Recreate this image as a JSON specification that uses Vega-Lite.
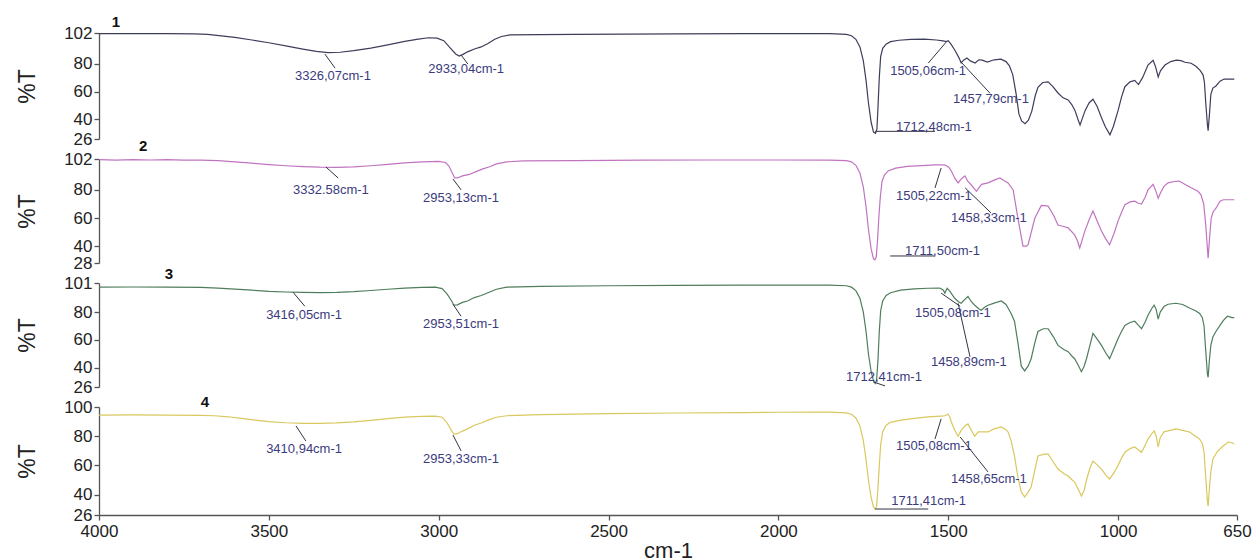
{
  "$schema": "https://vega.github.io/schema/vega-lite/v6.json",
  "background": "white",
  "padding": {"left": 16, "top": 14, "right": 5, "bottom": 0},
  "bounds": "flush",
  "spacing": 20,
  "config": {
    "view": {"stroke": null},
    "font": "Liberation Sans",
    "axis": {"grid": false, "labelOverlap": false, "domainColor": "#555555", "tickColor": "#555555", "labelColor": "#222222", "titleColor": "#222222", "labelFont": "Liberation Sans", "titleFont": "Liberation Sans", "labelFontSize": 17, "titleFontSize": 23, "titleFontWeight": "normal", "tickSize": 5, "labelPadding": 2, "domainWidth": 1.3, "tickWidth": 1.3}
  },
  "datasets": {
    "s1": [
      {"wn":4000,"t":101.5},{"wn":3900,"t":101.6},{"wn":3800,"t":101.5},{"wn":3720,"t":101.4},{"wn":3680,"t":101},{"wn":3640,"t":100},{"wn":3600,"t":98.8},{"wn":3550,"t":97},{"wn":3500,"t":95},{"wn":3450,"t":92.8},{"wn":3400,"t":90.5},{"wn":3360,"t":88.8},{"wn":3326,"t":88},{"wn":3290,"t":88.2},{"wn":3250,"t":89.3},{"wn":3200,"t":91.2},{"wn":3150,"t":93.5},{"wn":3100,"t":96},{"wn":3060,"t":97.6},{"wn":3030,"t":98.6},{"wn":3005,"t":98.3},{"wn":2985,"t":96.5},{"wn":2965,"t":91},{"wn":2950,"t":87},{"wn":2940,"t":85.5},{"wn":2930,"t":86.5},{"wn":2915,"t":88.5},{"wn":2895,"t":90.5},{"wn":2875,"t":92},{"wn":2855,"t":94.5},{"wn":2835,"t":97.5},{"wn":2815,"t":99.5},{"wn":2790,"t":100.6},{"wn":2700,"t":100.9},{"wn":2600,"t":101},{"wn":2450,"t":101.2},{"wn":2300,"t":101.4},{"wn":2100,"t":101.5},{"wn":1950,"t":101.6},{"wn":1850,"t":101.5},{"wn":1800,"t":101},{"wn":1785,"t":100},{"wn":1772,"t":97.5},{"wn":1760,"t":92},{"wn":1750,"t":82},{"wn":1742,"t":68},{"wn":1735,"t":52},{"wn":1727,"t":38},{"wn":1720,"t":31},{"wn":1714,"t":30},{"wn":1710,"t":33},{"wn":1707,"t":48},{"wn":1703,"t":70},{"wn":1699,"t":85},{"wn":1693,"t":91},{"wn":1683,"t":94},{"wn":1670,"t":95.8},{"wn":1645,"t":96.8},{"wn":1610,"t":97.4},{"wn":1570,"t":97.6},{"wn":1535,"t":97},{"wn":1515,"t":96.4},{"wn":1506,"t":95.8},{"wn":1500,"t":96.5},{"wn":1492,"t":94},{"wn":1480,"t":89.5},{"wn":1468,"t":84},{"wn":1462,"t":80.5},{"wn":1455,"t":82.5},{"wn":1445,"t":84},{"wn":1435,"t":82},{"wn":1421,"t":80.5},{"wn":1410,"t":82.8},{"wn":1400,"t":82.5},{"wn":1385,"t":81.2},{"wn":1365,"t":82.8},{"wn":1345,"t":83.2},{"wn":1330,"t":81.5},{"wn":1320,"t":78.5},{"wn":1310,"t":72},{"wn":1300,"t":58},{"wn":1292,"t":44},{"wn":1284,"t":39},{"wn":1274,"t":37},{"wn":1264,"t":39.5},{"wn":1254,"t":46},{"wn":1244,"t":57},{"wn":1236,"t":63},{"wn":1222,"t":66.5},{"wn":1206,"t":67},{"wn":1192,"t":63.5},{"wn":1177,"t":59},{"wn":1162,"t":55.5},{"wn":1147,"t":54},{"wn":1136,"t":50.5},{"wn":1127,"t":46.5},{"wn":1118,"t":40},{"wn":1112,"t":36},{"wn":1105,"t":41},{"wn":1097,"t":46.5},{"wn":1085,"t":52},{"wn":1074,"t":54.5},{"wn":1062,"t":49.5},{"wn":1050,"t":42},{"wn":1038,"t":35},{"wn":1024,"t":29},{"wn":1014,"t":35},{"wn":1000,"t":46.5},{"wn":990,"t":56},{"wn":980,"t":63.5},{"wn":965,"t":67},{"wn":951,"t":68},{"wn":940,"t":65},{"wn":928,"t":70},{"wn":912,"t":79},{"wn":897,"t":82.5},{"wn":890,"t":78},{"wn":882,"t":70.5},{"wn":875,"t":75},{"wn":862,"t":79},{"wn":845,"t":81.5},{"wn":829,"t":82.6},{"wn":815,"t":82.2},{"wn":803,"t":81},{"wn":785,"t":80.3},{"wn":770,"t":78},{"wn":758,"t":75},{"wn":750,"t":72},{"wn":746,"t":67},{"wn":742,"t":52},{"wn":737,"t":36},{"wn":735,"t":32},{"wn":731,"t":44},{"wn":727,"t":58},{"wn":721,"t":62.5},{"wn":712,"t":64},{"wn":700,"t":67.5},{"wn":688,"t":69},{"wn":670,"t":69},{"wn":658,"t":69}
    ],
    "s2": [
      {"wn":4000,"t":101.5},{"wn":3950,"t":101.2},{"wn":3900,"t":101.6},{"wn":3850,"t":101.3},{"wn":3800,"t":101.5},{"wn":3750,"t":101.2},{"wn":3700,"t":101.2},{"wn":3650,"t":100.8},{"wn":3600,"t":100},{"wn":3550,"t":99},{"wn":3500,"t":98},{"wn":3450,"t":97.2},{"wn":3400,"t":96.6},{"wn":3350,"t":96.2},{"wn":3300,"t":96.1},{"wn":3250,"t":96.4},{"wn":3200,"t":97.2},{"wn":3150,"t":98.2},{"wn":3100,"t":99.2},{"wn":3050,"t":100},{"wn":3000,"t":100.3},{"wn":2980,"t":99.5},{"wn":2970,"t":97},{"wn":2960,"t":92},{"wn":2953,"t":88.5},{"wn":2945,"t":88.5},{"wn":2930,"t":90},{"wn":2910,"t":91},{"wn":2890,"t":93},{"wn":2870,"t":95},{"wn":2850,"t":96.5},{"wn":2830,"t":98.5},{"wn":2800,"t":100},{"wn":2750,"t":100.6},{"wn":2600,"t":100.9},{"wn":2400,"t":101.2},{"wn":2200,"t":101.3},{"wn":2000,"t":101.3},{"wn":1850,"t":101.2},{"wn":1800,"t":100.8},{"wn":1785,"t":100},{"wn":1772,"t":97.5},{"wn":1760,"t":92},{"wn":1750,"t":82},{"wn":1742,"t":68},{"wn":1735,"t":52},{"wn":1727,"t":38},{"wn":1720,"t":31},{"wn":1716,"t":30.3},{"wn":1712,"t":32},{"wn":1708,"t":45},{"wn":1704,"t":62},{"wn":1700,"t":75},{"wn":1695,"t":86},{"wn":1688,"t":90.6},{"wn":1677,"t":93.5},{"wn":1655,"t":95.5},{"wn":1620,"t":96.8},{"wn":1580,"t":97.3},{"wn":1540,"t":97.8},{"wn":1521,"t":97.8},{"wn":1510,"t":97.6},{"wn":1505,"t":97.2},{"wn":1498,"t":96},{"wn":1491,"t":93.5},{"wn":1480,"t":88},{"wn":1471,"t":85},{"wn":1461,"t":88},{"wn":1451,"t":90},{"wn":1442,"t":86},{"wn":1432,"t":83.5},{"wn":1417,"t":79},{"wn":1402,"t":84},{"wn":1383,"t":85},{"wn":1365,"t":87},{"wn":1348,"t":88.5},{"wn":1335,"t":86.5},{"wn":1324,"t":85},{"wn":1309,"t":80},{"wn":1295,"t":60},{"wn":1280,"t":40},{"wn":1270,"t":40},{"wn":1265,"t":41},{"wn":1245,"t":60},{"wn":1226,"t":69},{"wn":1206,"t":68.5},{"wn":1190,"t":62},{"wn":1177,"t":55},{"wn":1160,"t":54},{"wn":1147,"t":53},{"wn":1128,"t":48},{"wn":1120,"t":44},{"wn":1113,"t":38.7},{"wn":1105,"t":45},{"wn":1098,"t":50.7},{"wn":1085,"t":59},{"wn":1074,"t":65},{"wn":1062,"t":58},{"wn":1049,"t":50.7},{"wn":1036,"t":45},{"wn":1025,"t":41},{"wn":1012,"t":49},{"wn":1000,"t":58},{"wn":990,"t":64},{"wn":980,"t":69.5},{"wn":965,"t":71.5},{"wn":951,"t":72},{"wn":940,"t":70.5},{"wn":931,"t":70},{"wn":920,"t":75},{"wn":912,"t":80},{"wn":897,"t":84},{"wn":890,"t":80},{"wn":882,"t":74},{"wn":875,"t":78},{"wn":865,"t":82.5},{"wn":853,"t":85},{"wn":835,"t":86},{"wn":820,"t":86.3},{"wn":800,"t":83.5},{"wn":785,"t":81.5},{"wn":765,"t":79},{"wn":756,"t":76.5},{"wn":748,"t":70},{"wn":742,"t":55},{"wn":737,"t":38},{"wn":735,"t":31.5},{"wn":731,"t":45},{"wn":726,"t":60},{"wn":720,"t":64.5},{"wn":712,"t":67},{"wn":700,"t":72},{"wn":690,"t":73},{"wn":675,"t":73},{"wn":658,"t":73}
    ],
    "s3": [
      {"wn":4000,"t":98},{"wn":3900,"t":98.1},{"wn":3800,"t":98},{"wn":3700,"t":97.8},{"wn":3650,"t":97.3},{"wn":3600,"t":96.6},{"wn":3550,"t":95.8},{"wn":3500,"t":95},{"wn":3450,"t":94.5},{"wn":3400,"t":94.2},{"wn":3350,"t":94.1},{"wn":3300,"t":94.3},{"wn":3250,"t":94.8},{"wn":3200,"t":95.6},{"wn":3150,"t":96.5},{"wn":3100,"t":97.3},{"wn":3050,"t":97.8},{"wn":3010,"t":98},{"wn":2990,"t":97},{"wn":2975,"t":93},{"wn":2962,"t":88},{"wn":2955,"t":85},{"wn":2945,"t":85.2},{"wn":2930,"t":87},{"wn":2915,"t":88},{"wn":2895,"t":90.5},{"wn":2875,"t":92},{"wn":2855,"t":94},{"wn":2830,"t":96.5},{"wn":2800,"t":98},{"wn":2700,"t":98.6},{"wn":2500,"t":99},{"wn":2300,"t":99.3},{"wn":2100,"t":99.4},{"wn":1950,"t":99.5},{"wn":1850,"t":99.4},{"wn":1800,"t":99},{"wn":1785,"t":98},{"wn":1772,"t":95.5},{"wn":1760,"t":90},{"wn":1750,"t":80},{"wn":1742,"t":66},{"wn":1735,"t":50},{"wn":1727,"t":37},{"wn":1720,"t":30.5},{"wn":1715,"t":28.5},{"wn":1711,"t":31},{"wn":1707,"t":45},{"wn":1703,"t":66},{"wn":1699,"t":81},{"wn":1693,"t":88},{"wn":1683,"t":92},{"wn":1670,"t":94},{"wn":1640,"t":95.8},{"wn":1600,"t":96.8},{"wn":1560,"t":97.2},{"wn":1525,"t":97.4},{"wn":1515,"t":96},{"wn":1510,"t":93.7},{"wn":1503,"t":97.2},{"wn":1495,"t":95},{"wn":1481,"t":90},{"wn":1470,"t":87.5},{"wn":1462,"t":86.4},{"wn":1452,"t":89},{"wn":1442,"t":91.3},{"wn":1432,"t":87.5},{"wn":1422,"t":85},{"wn":1410,"t":82.5},{"wn":1403,"t":81.3},{"wn":1393,"t":83.5},{"wn":1383,"t":85},{"wn":1365,"t":86.5},{"wn":1344,"t":88},{"wn":1330,"t":85.5},{"wn":1324,"t":83},{"wn":1315,"t":79},{"wn":1305,"t":73.4},{"wn":1295,"t":58},{"wn":1285,"t":41},{"wn":1275,"t":37.6},{"wn":1265,"t":41},{"wn":1256,"t":46.4},{"wn":1245,"t":58},{"wn":1236,"t":66},{"wn":1220,"t":68},{"wn":1206,"t":68},{"wn":1190,"t":62},{"wn":1177,"t":56},{"wn":1160,"t":53},{"wn":1147,"t":51.5},{"wn":1135,"t":48},{"wn":1128,"t":46.4},{"wn":1118,"t":42},{"wn":1108,"t":37},{"wn":1100,"t":41},{"wn":1093,"t":46.4},{"wn":1083,"t":56},{"wn":1074,"t":64.6},{"wn":1060,"t":60},{"wn":1049,"t":56},{"wn":1035,"t":50},{"wn":1025,"t":46.4},{"wn":1012,"t":54},{"wn":1000,"t":61},{"wn":990,"t":66},{"wn":980,"t":70.4},{"wn":965,"t":72.5},{"wn":951,"t":73.4},{"wn":940,"t":70.5},{"wn":931,"t":68},{"wn":920,"t":73},{"wn":912,"t":77.7},{"wn":900,"t":83},{"wn":894,"t":85},{"wn":888,"t":82},{"wn":882,"t":75},{"wn":876,"t":80},{"wn":865,"t":84},{"wn":853,"t":85.7},{"wn":830,"t":86.4},{"wn":810,"t":85.5},{"wn":790,"t":83},{"wn":772,"t":81},{"wn":760,"t":79},{"wn":752,"t":76},{"wn":747,"t":70},{"wn":742,"t":52},{"wn":737,"t":35},{"wn":735,"t":33},{"wn":731,"t":46},{"wn":727,"t":56},{"wn":721,"t":62},{"wn":712,"t":66},{"wn":700,"t":70.4},{"wn":690,"t":74},{"wn":678,"t":77},{"wn":665,"t":76},{"wn":658,"t":76}
    ],
    "s4": [
      {"wn":4000,"t":94.5},{"wn":3900,"t":94.6},{"wn":3800,"t":94.5},{"wn":3700,"t":94.3},{"wn":3660,"t":94},{"wn":3620,"t":93.3},{"wn":3580,"t":92.2},{"wn":3540,"t":91},{"wn":3500,"t":90},{"wn":3450,"t":89.2},{"wn":3400,"t":88.8},{"wn":3350,"t":88.8},{"wn":3300,"t":89.1},{"wn":3250,"t":89.8},{"wn":3200,"t":90.8},{"wn":3150,"t":92},{"wn":3100,"t":93},{"wn":3050,"t":93.6},{"wn":3010,"t":93.8},{"wn":2990,"t":93},{"wn":2975,"t":89},{"wn":2963,"t":84},{"wn":2955,"t":81.5},{"wn":2945,"t":81.7},{"wn":2930,"t":83.5},{"wn":2915,"t":85},{"wn":2895,"t":87.5},{"wn":2875,"t":89},{"wn":2855,"t":91},{"wn":2830,"t":93},{"wn":2800,"t":94},{"wn":2700,"t":94.8},{"wn":2500,"t":95.5},{"wn":2300,"t":95.9},{"wn":2100,"t":96.2},{"wn":2000,"t":96.4},{"wn":1900,"t":96.5},{"wn":1850,"t":96.5},{"wn":1800,"t":96},{"wn":1785,"t":95},{"wn":1772,"t":92.5},{"wn":1760,"t":87},{"wn":1750,"t":77},{"wn":1742,"t":64},{"wn":1735,"t":50},{"wn":1727,"t":38},{"wn":1720,"t":31.5},{"wn":1715,"t":30},{"wn":1711,"t":32},{"wn":1707,"t":44},{"wn":1703,"t":60},{"wn":1699,"t":74},{"wn":1693,"t":83},{"wn":1683,"t":87.5},{"wn":1670,"t":89.5},{"wn":1640,"t":91},{"wn":1600,"t":92.2},{"wn":1560,"t":93.2},{"wn":1521,"t":93.8},{"wn":1510,"t":94},{"wn":1505,"t":94.5},{"wn":1501,"t":95.2},{"wn":1495,"t":93},{"wn":1491,"t":89.7},{"wn":1481,"t":84},{"wn":1471,"t":80},{"wn":1462,"t":84},{"wn":1451,"t":87},{"wn":1442,"t":88.4},{"wn":1432,"t":84},{"wn":1422,"t":80},{"wn":1412,"t":83},{"wn":1403,"t":82.9},{"wn":1383,"t":82.9},{"wn":1365,"t":85},{"wn":1344,"t":86.3},{"wn":1330,"t":84.5},{"wn":1324,"t":82.9},{"wn":1315,"t":77},{"wn":1305,"t":66.4},{"wn":1295,"t":52},{"wn":1285,"t":41.7},{"wn":1275,"t":38.4},{"wn":1265,"t":41.5},{"wn":1256,"t":45.2},{"wn":1245,"t":57},{"wn":1236,"t":66.4},{"wn":1220,"t":67.5},{"wn":1206,"t":67.8},{"wn":1190,"t":62},{"wn":1177,"t":57.5},{"wn":1160,"t":54.5},{"wn":1147,"t":52.7},{"wn":1135,"t":50},{"wn":1128,"t":48.6},{"wn":1118,"t":44},{"wn":1108,"t":39},{"wn":1100,"t":43},{"wn":1093,"t":50},{"wn":1083,"t":58},{"wn":1074,"t":63},{"wn":1060,"t":60},{"wn":1049,"t":57.5},{"wn":1035,"t":53},{"wn":1025,"t":50.7},{"wn":1012,"t":55},{"wn":1000,"t":60},{"wn":990,"t":65},{"wn":980,"t":69},{"wn":965,"t":71.5},{"wn":951,"t":72.6},{"wn":940,"t":70.5},{"wn":931,"t":69},{"wn":920,"t":74},{"wn":912,"t":78},{"wn":900,"t":82},{"wn":894,"t":83.6},{"wn":888,"t":80},{"wn":882,"t":72.6},{"wn":876,"t":79},{"wn":865,"t":83},{"wn":853,"t":83.6},{"wn":830,"t":85},{"wn":810,"t":84},{"wn":790,"t":82.9},{"wn":772,"t":80},{"wn":760,"t":78},{"wn":752,"t":75},{"wn":747,"t":69},{"wn":742,"t":52},{"wn":737,"t":35},{"wn":735,"t":32},{"wn":731,"t":45},{"wn":727,"t":55.5},{"wn":721,"t":64.4},{"wn":712,"t":68},{"wn":706,"t":70},{"wn":691,"t":73.3},{"wn":676,"t":76},{"wn":665,"t":75.5},{"wn":658,"t":74.7}
    ],
    "labels": [
      {"p":1,"wn":3423,"t":71,"label":"3326,07cm-1"},
      {"p":1,"wn":3031,"t":76,"label":"2933,04cm-1"},
      {"p":1,"wn":1671,"t":74.7,"label":"1505,06cm-1"},
      {"p":1,"wn":1486,"t":54.5,"label":"1457,79cm-1"},
      {"p":1,"wn":1654,"t":34.4,"label":"1712,48cm-1"},
      {"p":2,"wn":3429,"t":80,"label":"3332.58cm-1"},
      {"p":2,"wn":3046,"t":74.2,"label":"2953,13cm-1"},
      {"p":2,"wn":1654,"t":75.7,"label":"1505,22cm-1"},
      {"p":2,"wn":1492,"t":60,"label":"1458,33cm-1"},
      {"p":2,"wn":1627,"t":36.5,"label":"1711,50cm-1"},
      {"p":3,"wn":3508,"t":77.7,"label":"3416,05cm-1"},
      {"p":3,"wn":3046,"t":71.1,"label":"2953,51cm-1"},
      {"p":3,"wn":1598,"t":79.2,"label":"1505,08cm-1"},
      {"p":3,"wn":1551,"t":44.2,"label":"1458,89cm-1"},
      {"p":3,"wn":1801,"t":33.3,"label":"1712,41cm-1"},
      {"p":4,"wn":3508,"t":71.2,"label":"3410,94cm-1"},
      {"p":4,"wn":3046,"t":64.4,"label":"2953,33cm-1"},
      {"p":4,"wn":1654,"t":73.3,"label":"1505,08cm-1"},
      {"p":4,"wn":1492,"t":50.7,"label":"1458,65cm-1"},
      {"p":4,"wn":1668,"t":35.6,"label":"1711,41cm-1"}
    ],
    "leaders": [
      {"p":1,"wn":3335,"t":86.9,"wn2":3305,"t2":76.8},
      {"p":1,"wn":2934,"t":86.2,"wn2":2914,"t2":79.7},
      {"p":1,"wn":1506,"t":95.5,"wn2":1559,"t2":80.4},
      {"p":1,"wn":1465,"t":81.9,"wn2":1377,"t2":58.8},
      {"p":1,"wn":1715,"t":31.5,"wn2":1539,"t2":31.5},
      {"p":2,"wn":3332,"t":96.3,"wn2":3296,"t2":88.5},
      {"p":2,"wn":2958,"t":87.8,"wn2":2934,"t2":80},
      {"p":2,"wn":1521,"t":95.6,"wn2":1539,"t2":81.4},
      {"p":2,"wn":1450,"t":81.4,"wn2":1374,"t2":63.6},
      {"p":2,"wn":1671,"t":33,"wn2":1539,"t2":33},
      {"p":3,"wn":3429,"t":94.4,"wn2":3394,"t2":84.2},
      {"p":3,"wn":2958,"t":85.7,"wn2":2934,"t2":77},
      {"p":3,"wn":1521,"t":93.7,"wn2":1465,"t2":84.2},
      {"p":3,"wn":1471,"t":86.4,"wn2":1436,"t2":47.8},
      {"p":3,"wn":1721,"t":29.7,"wn2":1686,"t2":26.8},
      {"p":4,"wn":3420,"t":87,"wn2":3391,"t2":76.7},
      {"p":4,"wn":2958,"t":80.8,"wn2":2934,"t2":69.9},
      {"p":4,"wn":1521,"t":91.8,"wn2":1539,"t2":78.1},
      {"p":4,"wn":1465,"t":79.5,"wn2":1383,"t2":55.5},
      {"p":4,"wn":1715,"t":30.1,"wn2":1559,"t2":30.1}
    ],
    "nums": [
      {"p":1,"wn":3950,"t":110,"n":"1"},
      {"p":2,"wn":3870,"t":111.3,"n":"2"},
      {"p":3,"wn":3794,"t":107.6,"n":"3"},
      {"p":4,"wn":3688,"t":103.4,"n":"4"}
    ]
  },
  "vconcat": [
    {
      "width": 1138, "height": 106,
      "encoding": {
        "x": {"field": "wn", "type": "quantitative", "scale": {"domain": [650, 4000], "reverse": true, "nice": false, "zero": false}, "axis": null},
        "y": {"field": "t", "type": "quantitative", "scale": {"domain": [26, 102], "nice": false, "zero": false}, "axis": {"values": [26, 40, 60, 80, 102], "title": "%T", "titlePadding": 24}}
      },
      "layer": [
        {"data": {"name": "s1"}, "mark": {"type": "line", "color": "#3d3d5c", "strokeWidth": 1.2}},
        {"data": {"name": "leaders"}, "transform": [{"filter": "datum.p == 1"}], "mark": {"type": "rule", "color": "#333344", "strokeWidth": 1}, "encoding": {"x2": {"field": "wn2"}, "y2": {"field": "t2"}}},
        {"data": {"name": "labels"}, "transform": [{"filter": "datum.p == 1"}], "mark": {"type": "text", "align": "left", "baseline": "middle", "fontSize": 13, "color": "#3b3b7d"}, "encoding": {"text": {"field": "label"}}},
        {"data": {"name": "nums"}, "transform": [{"filter": "datum.p == 1"}], "mark": {"type": "text", "align": "center", "baseline": "middle", "fontSize": 15, "fontWeight": "bold", "color": "#111111"}, "encoding": {"text": {"field": "n"}}}
      ]
    },
    {
      "width": 1138, "height": 104,
      "encoding": {
        "x": {"field": "wn", "type": "quantitative", "scale": {"domain": [650, 4000], "reverse": true, "nice": false, "zero": false}, "axis": null},
        "y": {"field": "t", "type": "quantitative", "scale": {"domain": [28, 102], "nice": false, "zero": false}, "axis": {"values": [28, 40, 60, 80, 102], "title": "%T", "titlePadding": 24}}
      },
      "layer": [
        {"data": {"name": "s2"}, "mark": {"type": "line", "color": "#c074c0", "strokeWidth": 1.2}},
        {"data": {"name": "leaders"}, "transform": [{"filter": "datum.p == 2"}], "mark": {"type": "rule", "color": "#333344", "strokeWidth": 1}, "encoding": {"x2": {"field": "wn2"}, "y2": {"field": "t2"}}},
        {"data": {"name": "labels"}, "transform": [{"filter": "datum.p == 2"}], "mark": {"type": "text", "align": "left", "baseline": "middle", "fontSize": 13, "color": "#3b3b7d"}, "encoding": {"text": {"field": "label"}}},
        {"data": {"name": "nums"}, "transform": [{"filter": "datum.p == 2"}], "mark": {"type": "text", "align": "center", "baseline": "middle", "fontSize": 15, "fontWeight": "bold", "color": "#111111"}, "encoding": {"text": {"field": "n"}}}
      ]
    },
    {
      "width": 1138, "height": 104,
      "encoding": {
        "x": {"field": "wn", "type": "quantitative", "scale": {"domain": [650, 4000], "reverse": true, "nice": false, "zero": false}, "axis": null},
        "y": {"field": "t", "type": "quantitative", "scale": {"domain": [26, 101], "nice": false, "zero": false}, "axis": {"values": [26, 40, 60, 80, 101], "title": "%T", "titlePadding": 24}}
      },
      "layer": [
        {"data": {"name": "s3"}, "mark": {"type": "line", "color": "#4f7d5c", "strokeWidth": 1.2}},
        {"data": {"name": "leaders"}, "transform": [{"filter": "datum.p == 3"}], "mark": {"type": "rule", "color": "#333344", "strokeWidth": 1}, "encoding": {"x2": {"field": "wn2"}, "y2": {"field": "t2"}}},
        {"data": {"name": "labels"}, "transform": [{"filter": "datum.p == 3"}], "mark": {"type": "text", "align": "left", "baseline": "middle", "fontSize": 13, "color": "#3b3b7d"}, "encoding": {"text": {"field": "label"}}},
        {"data": {"name": "nums"}, "transform": [{"filter": "datum.p == 3"}], "mark": {"type": "text", "align": "center", "baseline": "middle", "fontSize": 15, "fontWeight": "bold", "color": "#111111"}, "encoding": {"text": {"field": "n"}}}
      ]
    },
    {
      "width": 1138, "height": 108,
      "encoding": {
        "x": {"field": "wn", "type": "quantitative", "scale": {"domain": [650, 4000], "reverse": true, "nice": false, "zero": false}, "axis": {"values": [4000, 3500, 3000, 2500, 2000, 1500, 1000, 650], "format": "d", "title": "cm-1", "titleFontSize": 22, "titlePadding": 1, "labelFlush": false, "labelPadding": 3}},
        "y": {"field": "t", "type": "quantitative", "scale": {"domain": [26, 100], "nice": false, "zero": false}, "axis": {"values": [26, 40, 60, 80, 100], "title": "%T", "titlePadding": 24}}
      },
      "layer": [
        {"data": {"name": "s4"}, "mark": {"type": "line", "color": "#d9c85e", "strokeWidth": 1.2}},
        {"data": {"name": "leaders"}, "transform": [{"filter": "datum.p == 4"}], "mark": {"type": "rule", "color": "#333344", "strokeWidth": 1}, "encoding": {"x2": {"field": "wn2"}, "y2": {"field": "t2"}}},
        {"data": {"name": "labels"}, "transform": [{"filter": "datum.p == 4"}], "mark": {"type": "text", "align": "left", "baseline": "middle", "fontSize": 13, "color": "#3b3b7d"}, "encoding": {"text": {"field": "label"}}},
        {"data": {"name": "nums"}, "transform": [{"filter": "datum.p == 4"}], "mark": {"type": "text", "align": "center", "baseline": "middle", "fontSize": 15, "fontWeight": "bold", "color": "#111111"}, "encoding": {"text": {"field": "n"}}}
      ]
    }
  ]
}
